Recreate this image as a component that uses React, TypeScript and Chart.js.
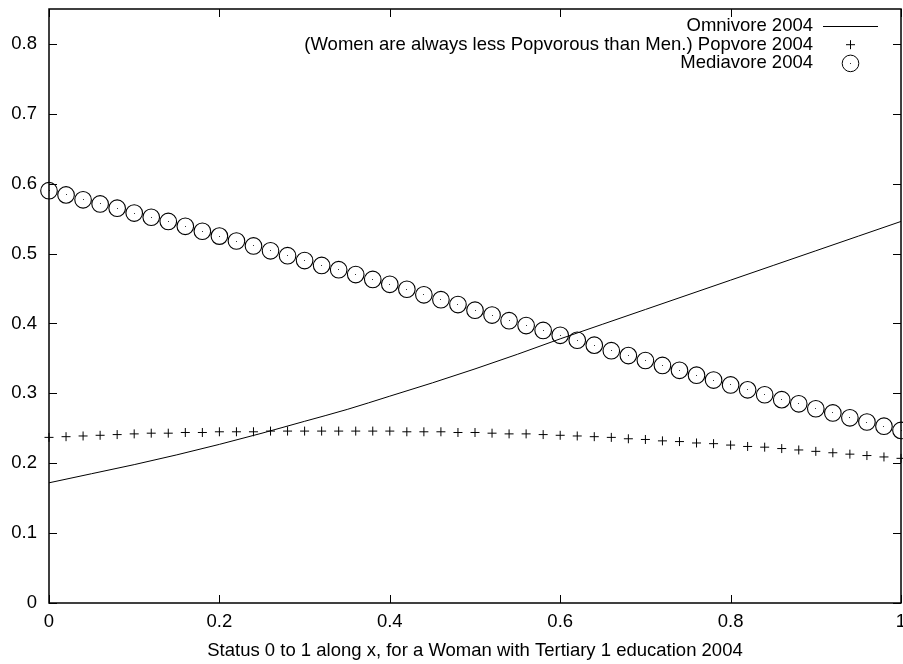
import React, { useEffect, useRef } from "react";
import { Chart, registerables } from "chart.js";

Chart.register(...registerables);

// ---- data ----
const statusX = [
  0, 0.02, 0.04, 0.06, 0.08, 0.1, 0.12, 0.14, 0.16, 0.18,
  0.2, 0.22, 0.24, 0.26, 0.28, 0.3, 0.32, 0.34, 0.36, 0.38,
  0.4, 0.42, 0.44, 0.46, 0.48, 0.5, 0.52, 0.54, 0.56, 0.58,
  0.6, 0.62, 0.64, 0.66, 0.68, 0.7, 0.72, 0.74, 0.76, 0.78,
  0.8, 0.82, 0.84, 0.86, 0.88, 0.9, 0.92, 0.94, 0.96, 0.98, 1,
];

const popvore = [
  0.237, 0.238, 0.239, 0.24, 0.241, 0.242, 0.243, 0.243, 0.244, 0.244,
  0.245, 0.245, 0.245, 0.246, 0.246, 0.246, 0.246, 0.246, 0.246, 0.246,
  0.246, 0.245, 0.245, 0.245, 0.244, 0.244, 0.243, 0.242, 0.242, 0.241,
  0.24, 0.239, 0.238, 0.237, 0.235, 0.234, 0.232, 0.231, 0.229, 0.228,
  0.226, 0.224, 0.223, 0.221, 0.219, 0.217, 0.215, 0.213, 0.211, 0.209, 0.207,
];

const mediavore = [
  0.59, 0.584, 0.577, 0.571, 0.565, 0.558, 0.552, 0.546, 0.539, 0.532,
  0.525, 0.518, 0.511, 0.504, 0.497, 0.49, 0.483, 0.477, 0.47, 0.463,
  0.456, 0.449, 0.441, 0.434, 0.427, 0.419, 0.412, 0.404, 0.397, 0.39,
  0.383, 0.376, 0.369, 0.361, 0.354, 0.347, 0.34, 0.333, 0.326, 0.319,
  0.312, 0.305, 0.298, 0.291, 0.285, 0.278, 0.272, 0.265, 0.259, 0.253, 0.247,
];

const omnivoreX = [
  0, 0.05, 0.1, 0.15, 0.2, 0.25, 0.3, 0.35, 0.4, 0.45, 0.5,
  0.55, 0.6, 0.65, 0.7, 0.75, 0.8, 0.85, 0.9, 0.95, 1,
];
const omnivore = [
  0.172, 0.185, 0.198, 0.212, 0.227, 0.243, 0.26, 0.277, 0.296, 0.315, 0.335,
  0.356, 0.378, 0.399, 0.42, 0.441, 0.462, 0.483, 0.504, 0.525, 0.546,
];

const xTicks = [0, 0.2, 0.4, 0.6, 0.8, 1];
const yTicks = [0, 0.1, 0.2, 0.3, 0.4, 0.5, 0.6, 0.7, 0.8];
const seriesLabels = [
  "Omnivore 2004",
  "(Women are always less Popvorous than Men.) Popvore 2004",
  "Mediavore 2004",
];
const xTitle = "Status 0 to 1 along x, for a Woman with Tertiary 1 education 2004";

const FONT_FAMILY = "'Liberation Sans', Arial, Helvetica, sans-serif";
const FONT_SIZE = 18.5;

const framePlugin = {
  id: "gnuFrame",
  afterDatasetsDraw(chart: any) {
    // centre dots of the Mediavore circles
    const { ctx } = chart;
    const meta = chart.getDatasetMeta(2);
    ctx.save();
    ctx.fillStyle = "#333";
    meta.data.forEach((el: any) => {
      ctx.fillRect(Math.floor(el.x), Math.floor(el.y), 1, 1);
    });
    ctx.restore();
  },
  afterDraw(chart: any) {
    const { ctx, chartArea } = chart;
    const { left, right, top, bottom } = chartArea;
    const xs = chart.scales.x;
    const ys = chart.scales.y;
    const tl = 8;
    ctx.save();
    ctx.strokeStyle = "#000";
    ctx.lineWidth = 1;
    ctx.beginPath();
    xTicks.forEach((v) => {
      const px = Math.round(xs.getPixelForValue(v)) + 0.5;
      ctx.moveTo(px, bottom);
      ctx.lineTo(px, bottom - tl);
      ctx.moveTo(px, top);
      ctx.lineTo(px, top + tl);
    });
    yTicks.forEach((v) => {
      const py = Math.round(ys.getPixelForValue(v)) + 0.5;
      ctx.moveTo(left, py);
      ctx.lineTo(left + tl, py);
      ctx.moveTo(right, py);
      ctx.lineTo(right - tl, py);
    });
    ctx.stroke();
    ctx.lineWidth = 1.5;
    ctx.strokeRect(left, top, right - left, bottom - top);

    // x tick labels
    ctx.font = `${FONT_SIZE}px ${FONT_FAMILY}`;
    ctx.fillStyle = "#000";
    ctx.textAlign = "center";
    ctx.textBaseline = "middle";
    xTicks.forEach((v) => {
      ctx.fillText(String(v), xs.getPixelForValue(v), bottom + 19);
    });
    ctx.restore();
  },
};

const legendPlugin = {
  id: "gnuLegend",
  afterDraw(chart: any) {
    const { ctx, chartArea } = chart;
    const textRight = chartArea.right - 88;
    const sampleL = chartArea.right - 78;
    const sampleR = chartArea.right - 23;
    const sampleC = (sampleL + sampleR) / 2;
    const y0 = chartArea.top + 17;
    const dy = 18.7;
    ctx.save();
    ctx.font = `${FONT_SIZE}px ${FONT_FAMILY}`;
    ctx.fillStyle = "#000";
    ctx.textAlign = "right";
    ctx.textBaseline = "middle";
    chart.data.datasets.forEach((ds: any, i: number) => {
      const y = y0 + i * dy;
      ctx.fillText(ds.label, textRight, y);
      ctx.strokeStyle = "#000";
      ctx.lineWidth = 1;
      ctx.beginPath();
      if (i === 0) {
        ctx.moveTo(sampleL, Math.round(y) + 0.5);
        ctx.lineTo(sampleR, Math.round(y) + 0.5);
      } else if (ds.pointStyle === "cross") {
        const r = ds.pointRadius;
        ctx.moveTo(sampleC - r, y);
        ctx.lineTo(sampleC + r, y);
        ctx.moveTo(sampleC, y - r);
        ctx.lineTo(sampleC, y + r);
      } else {
        ctx.arc(sampleC, y, ds.pointRadius, 0, Math.PI * 2);
      }
      ctx.stroke();
      if (i === 2) {
        ctx.fillStyle = "#333";
        ctx.fillRect(Math.floor(sampleC), Math.floor(y), 1, 1);
        ctx.fillStyle = "#000";
      }
    });
    ctx.restore();
  },
};

export default function App() {
  const ref = useRef<HTMLCanvasElement | null>(null);

  useEffect(() => {
    document.body.style.margin = "0";
    const canvas = ref.current;
    if (!canvas) return;
    const font = { family: FONT_FAMILY, size: FONT_SIZE };

    const chart = new Chart(canvas, {
      type: "line",
      data: {
        datasets: [
          {
            label: seriesLabels[0],
            data: omnivoreX.map((x, i) => ({ x, y: omnivore[i] })),
            borderColor: "#000",
            borderWidth: 1,
            pointRadius: 0,
            fill: false,
            cubicInterpolationMode: "monotone",
          },
          {
            label: seriesLabels[1],
            data: statusX.map((x, i) => ({ x, y: popvore[i] })),
            showLine: false,
            pointStyle: "cross",
            pointRadius: 4.5,
            pointHoverRadius: 4.5,
            borderColor: "#000",
            backgroundColor: "#000",
            pointBorderWidth: 1,
            clip: false,
          },
          {
            label: seriesLabels[2],
            data: statusX.map((x, i) => ({ x, y: mediavore[i] })),
            showLine: false,
            pointStyle: "circle",
            pointRadius: 8.3,
            pointHoverRadius: 8.3,
            borderColor: "#000",
            backgroundColor: "rgba(0,0,0,0)",
            pointBorderWidth: 1.1,
            clip: false,
          },
        ],
      } as any,
      options: {
        responsive: false,
        animation: false,
        events: [],
        layout: { autoPadding: false, padding: { top: 9, right: 2, left: 0, bottom: 0 } },
        plugins: {
          legend: { display: false },
          tooltip: { enabled: false },
        },
        scales: {
          x: {
            type: "linear",
            min: 0,
            max: 1,
            afterBuildTicks: (s: any) => {
              s.ticks = xTicks.map((v) => ({ value: v }));
            },
            afterFit: (s: any) => {
              s.height = 61;
              s.paddingLeft = 0;
              s.paddingRight = 0;
            },
            grid: { display: false, drawTicks: false },
            border: { display: false },
            ticks: { display: false },
            title: {
              display: true,
              text: xTitle,
              color: "#000",
              font,
              padding: { top: 0, bottom: 2 },
            },
          },
          y: {
            type: "linear",
            min: 0,
            max: 0.85,
            afterBuildTicks: (s: any) => {
              s.ticks = yTicks.map((v) => ({ value: v }));
            },
            afterFit: (s: any) => {
              s.width = 49;
              s.paddingTop = 0;
              s.paddingBottom = 0;
            },
            grid: { display: false, drawTicks: false },
            border: { display: false },
            ticks: {
              padding: 12,
              color: "#000",
              font,
              autoSkip: false,
              callback: (v: any) => String(Math.round(v * 10) / 10),
            },
          },
        },
      } as any,
      plugins: [framePlugin, legendPlugin],
    });
    return () => chart.destroy();
  }, []);

  return (
    <div style={{ width: 903, height: 664 }}>
      <canvas ref={ref} width={903} height={664} style={{ display: "block" }} />
    </div>
  );
}
